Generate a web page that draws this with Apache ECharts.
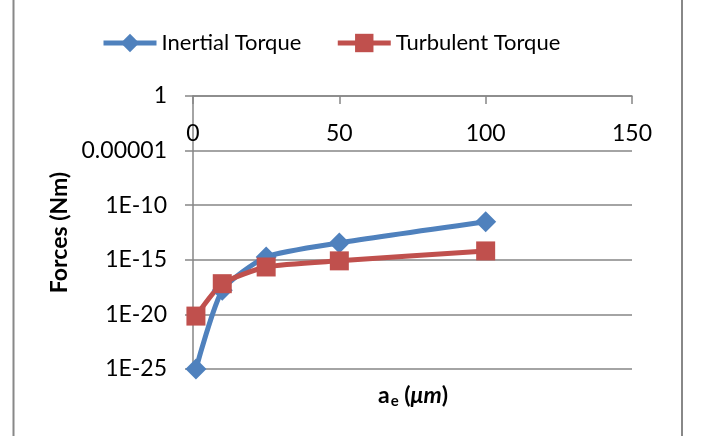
<!DOCTYPE html>
<html>
<head>
<meta charset="utf-8">
<script src="https://cdn.jsdelivr.net/npm/echarts@6/dist/echarts.min.js"></script>
<style>html,body{margin:0;padding:0;background:#fff}#c{width:703px;height:436px}</style>
</head>
<body>
<div id="c"></div>
<script>
const xValues = [1, 10, 25, 50, 100];
const inertialTorque = [1e-25, 1.6e-18, 1.8e-15, 3.5e-14, 3.0e-12];
const turbulentTorque = [7e-21, 6.5e-18, 2.2e-16, 8e-16, 6.5e-15];
const xTicks = [0, 50, 100, 150];
const yTickLabels = {"0": "1", "-5": "0.00001", "-10": "1E-10", "-15": "1E-15", "-20": "1E-20", "-25": "1E-25"};
const seriesNames = ["Inertial Torque", "Turbulent Torque"];

const FONT = "Lato";
const chart = echarts.init(document.getElementById('c'), null, {renderer: 'canvas'});
// y axis shows decades (log10 of the value)
const pairs = arr => xValues.map((x, i) => [x, Math.log10(arr[i])]);
const gray = '#868686';

chart.setOption({
  animation: false,
  textStyle: {fontFamily: FONT},
  legend: {
    left: 96, top: 27,
    itemWidth: 53, itemHeight: 23, itemGap: 34,
    lineStyle: {width: 5},
    textStyle: {fontSize: 22, color: '#000', fontFamily: FONT},
    data: seriesNames
  },
  grid: {left: 193, right: 71, top: 96, bottom: 67, containLabel: false},
  title: {
    text: '{a|a}{e|e}{p| (}{m|μm}{p|)}',
    left: 373, top: 377,
    textStyle: {
      rich: {
        a: {fontFamily: FONT, fontWeight: 'bold', fontSize: 23, color: '#000'},
        e: {fontFamily: FONT, fontWeight: 'bold', fontSize: 15, color: '#000', padding: [12, 0, 0, 1]},
        p: {fontFamily: FONT, fontWeight: 'bold', fontSize: 23, color: '#000'},
        m: {fontFamily: FONT, fontWeight: 'bold', fontStyle: 'italic', fontSize: 23, color: '#000'}
      }
    }
  },
  xAxis: {
    type: 'value', position: 'top',
    min: xTicks[0], max: xTicks[xTicks.length - 1], interval: xTicks[1] - xTicks[0],
    axisLine: {show: true, lineStyle: {color: gray, width: 1.5}},
    axisTick: {show: true, inside: true, length: 8, lineStyle: {color: gray, width: 1.5}},
    axisLabel: {inside: true, margin: 26, fontSize: 23, color: '#000', fontFamily: FONT},
    splitLine: {show: false}
  },
  yAxis: {
    type: 'value', min: -25, max: 0, interval: 5,
    name: 'Forces (Nm)', nameLocation: 'middle', nameGap: 120,
    nameTextStyle: {fontFamily: FONT, fontWeight: 'bold', fontSize: 23, color: '#000'},
    axisLine: {show: true, onZero: false, lineStyle: {color: gray, width: 1.5}},
    axisTick: {show: true, inside: false, length: 8, lineStyle: {color: gray, width: 1.5}},
    axisLabel: {
      margin: 26, fontSize: 23, color: '#000', fontFamily: FONT,
      formatter: v => {
        const e = Math.round(v);
        return yTickLabels[String(e)] !== undefined ? yTickLabels[String(e)] : '';
      }
    },
    splitLine: {show: true, lineStyle: {color: gray, width: 1.5}}
  },
  graphic: [
    {type: 'line', shape: {x1: 13.5, y1: 0, x2: 13.5, y2: 436}, style: {stroke: '#888', lineWidth: 2}},
    {type: 'line', shape: {x1: 682, y1: 0, x2: 682, y2: 436}, style: {stroke: '#888', lineWidth: 2}}
  ],
  series: [
    {
      name: seriesNames[0], type: 'line', data: pairs(inertialTorque),
      smooth: 0.2, clip: false,
      symbol: 'diamond', symbolSize: 21,
      lineStyle: {color: '#4F81BD', width: 5},
      itemStyle: {color: '#4F81BD'}
    },
    {
      name: seriesNames[1], type: 'line', data: pairs(turbulentTorque),
      smooth: 0.2, clip: false,
      symbol: 'rect', symbolSize: 19,
      lineStyle: {color: '#C0504D', width: 5},
      itemStyle: {color: '#C0504D'}
    }
  ]
});
</script>
</body>
</html>
